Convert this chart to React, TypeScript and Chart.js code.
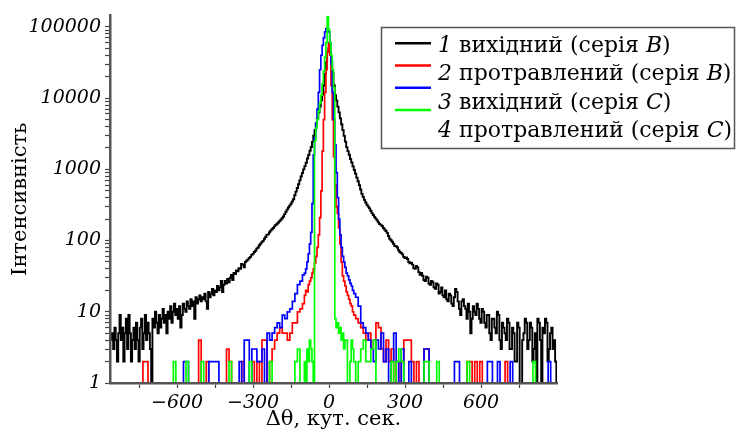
import { useEffect, useRef } from "react";
import { Chart, registerables } from "chart.js";

Chart.register(...registerables);

// Bin centres (arc seconds) for series 1, 5″ bins
const ANGLES_FINE = [
  -860, -855, -850, -845, -840, -835, -830, -825, -820, -815,
  -810, -805, -800, -795, -790, -785, -780, -775, -770, -765,
  -760, -755, -750, -745, -740, -735, -730, -725, -720, -715,
  -710, -705, -700, -695, -690, -685, -680, -675, -670, -665,
  -660, -655, -650, -645, -640, -635, -630, -625, -620, -615,
  -610, -605, -600, -595, -590, -585, -580, -575, -570, -565,
  -560, -555, -550, -545, -540, -535, -530, -525, -520, -515,
  -510, -505, -500, -495, -490, -485, -480, -475, -470, -465,
  -460, -455, -450, -445, -440, -435, -430, -425, -420, -415,
  -410, -405, -400, -395, -390, -385, -380, -375, -370, -365,
  -360, -355, -350, -345, -340, -335, -330, -325, -320, -315,
  -310, -305, -300, -295, -290, -285, -280, -275, -270, -265,
  -260, -255, -250, -245, -240, -235, -230, -225, -220, -215,
  -210, -205, -200, -195, -190, -185, -180, -175, -170, -165,
  -160, -155, -150, -145, -140, -135, -130, -125, -120, -115,
  -110, -105,
  -100, -95, -90, -85, -80, -75, -70, -65, -60, -55,
  -50, -45, -40, -35, -30, -25, -20, -15, -10, -5,
  0, 5, 10, 15, 20, 25, 30, 35, 40, 45,
  50, 55, 60, 65, 70, 75, 80, 85, 90, 95,
  100,
  105, 110, 115, 120, 125, 130, 135, 140, 145, 150,
  155, 160, 165, 170, 175, 180, 185, 190, 195, 200,
  205, 210, 215, 220, 225, 230, 235, 240, 245, 250,
  255, 260, 265, 270, 275, 280, 285, 290, 295, 300,
  305, 310, 315, 320, 325, 330, 335, 340, 345, 350,
  355, 360, 365, 370, 375, 380, 385, 390, 395, 400,
  405, 410, 415, 420, 425, 430, 435, 440, 445, 450,
  455, 460, 465, 470, 475, 480, 485, 490, 495, 500,
  505, 510, 515, 520, 525, 530, 535, 540, 545, 550,
  555, 560, 565, 570, 575, 580, 585, 590, 595, 600,
  605, 610, 615, 620, 625, 630, 635, 640, 645, 650,
  655, 660, 665, 670, 675, 680, 685, 690, 695, 700,
  705, 710, 715, 720, 725, 730, 735, 740, 745, 750,
  755, 760, 765, 770, 775, 780, 785, 790, 795, 800,
  805, 810, 815, 820, 825, 830, 835, 840, 845, 850,
  855, 860, 865, 870, 875, 880, 885, 890, 895, 900,
];

// 1 вихідний (серія B)
const SERIES_B_ORIGINAL = [
  4, 5, 3, 6, 4, 2, 5, 9, 4, 6,
  2, 5, 8, 3, 9, 5, 2, 4, 6, 3,
  7, 4, 2, 6, 8, 3, 5, 9, 4, 7,
  5, 3, 1, 8, 6, 10, 7, 5, 9, 6,
  8, 11, 7, 9, 5, 10, 8, 12, 7, 10,
  13, 9, 11, 8, 12, 6, 9, 13, 11, 10,
  14, 12, 11, 15, 12, 14, 8, 16, 13, 15,
  17, 14, 16, 15, 18, 14, 11, 19, 16, 18,
  21, 17, 20, 19, 23, 20, 22, 27, 19, 24,
  27, 25, 29, 26, 30, 33, 28, 35, 34, 38,
  37, 41, 40, 47, 46, 42, 50, 52, 54, 57,
  59, 63, 65, 69, 72, 77, 80, 86, 90, 95,
  99, 106, 112, 120, 122, 131, 138, 144, 150, 158,
  165, 172, 179, 187, 196, 206, 218, 235, 254, 272,
  291, 309, 329, 353, 381, 432, 487, 548, 618, 700,
  792, 890,
  1000, 1110, 1240, 1420, 1590, 1820, 2060, 2430, 2960, 3540,
  4320, 5190, 6300, 7620, 9300, 11200, 15000, 22000, 32000, 45000,
  50000, 44000, 33000, 22500, 15200, 11000, 9300, 7600, 6300, 5200,
  4300, 3550, 2950, 2450, 2050, 1800, 1600, 1400, 1250, 1100,
  980,
  870, 765, 680, 600, 520, 452, 410, 372, 343, 318,
  300, 283, 262, 243, 228, 214, 203, 192, 180, 171,
  166, 160, 150, 143, 136, 128, 116, 106, 101, 96,
  90, 84, 83, 80, 73, 69, 67, 64, 59, 57,
  58, 55, 50, 48, 49, 46, 41, 40, 44, 42,
  36, 33, 35, 32, 28, 27, 31, 30, 25, 24,
  27, 26, 22, 21, 25, 24, 18, 19, 22, 17,
  16, 20, 15, 14, 18, 17, 13, 12, 16, 21,
  19, 14, 11, 9, 14, 15, 12, 11, 8, 13,
  10, 5, 8, 12, 10, 9, 13, 11, 8, 7,
  11, 10, 7, 6, 9, 9, 5, 4, 8, 8,
  6, 5, 10, 9, 4, 3, 7, 6, 5, 4,
  8, 7, 3, 3, 6, 5, 2, 2, 7, 6,
  1, 1, 4, 5, 8, 7, 3, 4, 7, 6,
  2, 3, 5, 1, 8, 7, 4, 1, 6, 5,
  8, 7, 2, 3, 5, 6, 3, 4, 2, 1,
];

// Bin centres (arc seconds) for series 2–4
const ANGLES = [
  -860, -850, -840, -830, -820, -810, -800, -790, -780, -770,
  -760, -750, -740, -730, -720, -710, -700, -690, -680, -670,
  -660, -650, -640, -630, -620, -610, -600, -590, -580, -570,
  -560, -550, -540, -530, -520, -510, -500, -490, -480, -470,
  -460, -450, -440, -430, -420, -410, -400, -390, -380, -370,
  -360, -350, -340, -330, -320, -310, -300, -290, -280, -270,
  -260, -250, -240, -230, -220, -210, -200, -190, -180, -170,
  -160, -150, -140, -130, -120, -110,
  -100, -95, -90, -85, -80, -75, -70, -65, -60, -55,
  -50, -45, -40, -35, -30, -25, -20, -15, -10, -5,
  0, 5, 10, 15, 20, 25, 30, 35, 40, 45,
  50, 55, 60, 65, 70, 75, 80, 85, 90, 95,
  100,
  110, 120, 130, 140, 150, 160, 170, 180, 190, 200,
  210, 220, 230, 240, 250, 260, 270, 280, 290, 300,
  310, 320, 330, 340, 350, 360, 370, 380, 390, 400,
  410, 420, 430, 440, 450, 460, 470, 480, 490, 500,
  510, 520, 530, 540, 550, 560, 570, 580, 590, 600,
  610, 620, 630, 640, 650, 660, 670, 680, 690, 700,
  710, 720, 730, 740, 750, 760, 770, 780, 790, 800,
  810, 820, 830, 840, 850, 860, 870, 880, 890, 900,
];

// 2 протравлений (серія B)
const SERIES_B_ETCHED = [
  1, 1, 1, 1, 1, 1, 1, 1, 1, 1,
  1, 1, 1, 2, 2, 1, 1, 1, 1, 1,
  1, 1, 1, 1, 1, 1, 1, 1, 1, 1,
  1, 1, 1, 1, 1, 4, 1, 1, 2, 1,
  1, 1, 1, 1, 1, 1, 3, 2, 1, 1,
  1, 1, 2, 1, 1, 1, 2, 1, 2, 1,
  4, 4, 1, 2, 3, 4, 5, 6, 5, 5,
  4, 5, 7, 7, 10, 11,
  13, 17, 20, 19, 24, 27, 30, 35, 40, 48,
  60, 80, 120, 210, 500, 1800, 5000, 12000, 25000, 45000,
  60000, 40000, 15000, 5000, 1500, 600, 300, 240, 150, 90,
  50, 32, 27, 23, 19, 17, 15, 13, 12, 10,
  9,
  8, 7, 6, 5, 4, 5, 3, 4, 7, 6,
  3, 2, 4, 2, 3, 1, 2, 1, 2, 4,
  4, 4, 2, 1, 2, 1, 1, 3, 3, 1,
  1, 1, 1, 1, 1, 1, 1, 1, 1, 1,
  1, 1, 1, 1, 2, 2, 1, 2, 1, 2,
  1, 1, 1, 1, 1, 1, 1, 1, 1, 2,
  1, 1, 1, 1, 1, 1, 1, 1, 1, 1,
  1, 1, 1, 1, 1, 1, 1, 1, 1, 1,
];

// 3 вихідний (серія C)
const SERIES_C_ORIGINAL = [
  1, 1, 1, 1, 1, 1, 1, 1, 1, 1,
  1, 1, 1, 1, 1, 1, 1, 1, 1, 1,
  1, 1, 1, 1, 1, 1, 1, 1, 1, 2,
  2, 1, 1, 1, 1, 1, 1, 1, 1, 2,
  2, 2, 2, 1, 1, 1, 1, 1, 1, 1,
  1, 2, 1, 4, 4, 1, 3, 3, 2, 2,
  3, 1, 5, 4, 5, 6, 7, 6, 9, 8,
  10, 11, 14, 18, 24, 27,
  33, 35, 40, 50, 65, 90, 130, 330, 1600, 2800,
  4500, 7000, 12000, 25000, 40000, 55000, 70000, 85000, 95000, 95000,
  85000, 60000, 30000, 12000, 5000, 2200, 900, 400, 200, 120,
  80, 60, 50, 42, 35, 32, 28, 25, 23, 20,
  18,
  16, 12, 7, 6, 5, 4, 3, 2, 4, 3,
  5, 2, 3, 1, 2, 5, 2, 1, 3, 1,
  1, 2, 1, 1, 1, 1, 1, 3, 3, 1,
  1, 1, 1, 1, 1, 1, 1, 1, 1, 2,
  2, 1, 1, 1, 1, 1, 1, 1, 1, 1,
  1, 1, 2, 2, 1, 1, 2, 1, 1, 1,
  1, 2, 1, 1, 1, 1, 1, 1, 1, 1,
  1, 1, 1, 1, 1, 1, 2, 1, 1, 1,
];

// 4 протравлений (серія C)
const SERIES_C_ETCHED = [
  1, 1, 1, 1, 1, 1, 1, 1, 1, 1,
  1, 1, 1, 1, 1, 1, 1, 1, 1, 1,
  1, 1, 1, 1, 1, 2, 1, 1, 1, 1,
  2, 1, 1, 1, 1, 1, 2, 1, 1, 1,
  1, 1, 1, 1, 1, 1, 1, 2, 1, 1,
  1, 1, 1, 1, 1, 2, 1, 1, 1, 1,
  1, 1, 1, 2, 1, 1, 1, 1, 1, 1,
  1, 1, 1, 2, 3, 1,
  1, 2, 1, 3, 2, 4, 3, 2, 1, 2500,
  3800, 5000, 6500, 8500, 11000, 16000, 24000, 38000, 60000, 140000,
  90000, 60000, 40000, 25000, 14000, 8, 6, 7, 5, 6,
  4, 5, 3, 4, 4, 1, 1, 2, 4, 3,
  2,
  1, 2, 3, 4, 2, 2, 3, 4, 1, 1,
  1, 1, 1, 1, 2, 1, 2, 3, 2, 1,
  1, 1, 1, 1, 1, 1, 1, 2, 2, 1,
  1, 1, 2, 1, 1, 1, 1, 1, 1, 1,
  1, 1, 1, 1, 2, 1, 1, 1, 1, 1,
  1, 1, 1, 1, 1, 1, 1, 1, 1, 1,
  1, 1, 1, 1, 1, 1, 1, 1, 1, 1,
  2, 1, 1, 1, 1, 1, 1, 1, 1, 1,
];

const SERIES_ANGLES = [ANGLES_FINE, ANGLES, ANGLES, ANGLES];
const SERIES_VALUES = [SERIES_B_ORIGINAL, SERIES_B_ETCHED, SERIES_C_ORIGINAL, SERIES_C_ETCHED];
const SERIES_NUMBERS = ["1", "2", "3", "4"];
const SERIES_STATES = ["вихідний", "протравлений", "вихідний", "протравлений"];
const SERIES_LETTERS = ["B", "B", "C", "C"];
const SERIES_COLORS = ["#000000", "#ff0000", "#0000ff", "#00ff00"];

const X_TICKS = [-750, -600, -450, -300, -150, 0, 150, 300, 450, 600, 750];
const X_TICK_LABELS = [-600, -300, 0, 300, 600];
const Y_DECADES = [1, 10, 100, 1000, 10000, 100000];
const Y_MINOR_STEPS = [1, 2, 3, 4, 5, 6, 7, 8, 9];

const X_TITLE = "Δθ, кут. сек.";
const Y_TITLE = "Інтенсивність";
const SERIF = '"DejaVu Serif", "Liberation Serif", serif';

const X_MIN = -865;
const X_MAX = 900;
const Y_MIN = 1;
const Y_MAX = 145000;

const legendPlugin = {
  id: "seriesLegend",
  afterDraw(chart: any) {
    const ctx = chart.ctx as CanvasRenderingContext2D;
    ctx.save();
    ctx.fillStyle = "#ffffff";
    ctx.fillRect(381.5, 27.5, 353, 121);
    ctx.strokeStyle = "#555555";
    ctx.lineWidth = 1.5;
    ctx.strokeRect(381.5, 27.5, 353, 121);
    const upright = `22px ${SERIF}`;
    const italic = `italic 22px ${SERIF}`;
    chart.data.datasets.forEach((ds: any, i: number) => {
      const ly = 43.3 + i * 22.2;
      ctx.strokeStyle = ds.borderColor;
      ctx.lineWidth = 2.5;
      ctx.beginPath();
      ctx.moveTo(395, ly);
      ctx.lineTo(431, ly);
      ctx.stroke();
      const ty = 52 + i * 28.4;
      const parts = [
        { t: SERIES_NUMBERS[i], f: italic },
        { t: " " + SERIES_STATES[i] + " (серія ", f: upright },
        { t: SERIES_LETTERS[i], f: italic },
        { t: ")", f: upright },
      ];
      let x = 438;
      ctx.fillStyle = "#000000";
      ctx.textBaseline = "alphabetic";
      ctx.textAlign = "left";
      for (const p of parts) {
        ctx.font = p.f;
        ctx.fillText(p.t, x, ty);
        x += ctx.measureText(p.t).width;
      }
    });
    ctx.restore();
  },
};

function fmt(v: number) {
  return v < 0 ? "\u2212" + Math.abs(v) : String(v);
}

export default function App() {
  const ref = useRef<HTMLCanvasElement | null>(null);

  useEffect(() => {
    document.body.style.margin = "0";
    const canvas = ref.current;
    if (!canvas) return;
    const datasets = SERIES_VALUES.map((vals, i) => ({
      label: `${SERIES_NUMBERS[i]} ${SERIES_STATES[i]} (серія ${SERIES_LETTERS[i]})`,
      data: SERIES_ANGLES[i].map((a, j) => ({ x: a, y: vals[j] })),
      borderColor: SERIES_COLORS[i],
      backgroundColor: SERIES_COLORS[i],
      borderWidth: i === 0 ? 1.9 : 1.7,
      pointRadius: 0,
      stepped: "middle" as const,
      fill: false,
      order: 4 - i,
    }));

    const axisGrid = { display: true, drawOnChartArea: false, drawTicks: true, tickLength: 5, tickColor: "#444444", tickWidth: 1.2 };
    const axisBorder = { display: true, color: "#555555", width: 2.5, z: 1 };

    const chart = new Chart(canvas, {
      type: "line",
      data: { datasets },
      options: {
        animation: false,
        responsive: false,
        devicePixelRatio: 1,
        layout: { padding: { left: 0, right: 179, top: 14, bottom: 0 } },
        plugins: {
          legend: { display: false },
          tooltip: { enabled: false },
          title: { display: false },
        },
        scales: {
          x: {
            type: "linear",
            min: X_MIN,
            max: X_MAX,
            afterBuildTicks(scale: any) {
              scale.ticks = X_TICKS.map((value) => ({ value }));
            },
            afterFit(scale: any) {
              scale.height = 49;
            },
            ticks: {
              autoSkip: false,
              maxRotation: 0,
              padding: 4,
              color: "#000000",
              font: { family: SERIF, size: 19, style: "italic" },
              callback: (value: any) => (X_TICK_LABELS.includes(Number(value)) ? fmt(Number(value)) : ""),
            },
            grid: axisGrid,
            border: axisBorder,
            title: {
              display: true,
              text: X_TITLE,
              color: "#000000",
              font: { family: SERIF, size: 21, lineHeight: 1.2 },
              padding: { top: 0, bottom: 0 },
            },
          },
          y: {
            type: "logarithmic",
            min: Y_MIN,
            max: Y_MAX,
            afterBuildTicks(scale: any) {
              const t: { value: number }[] = [];
              for (const d of Y_DECADES) {
                for (const m of Y_MINOR_STEPS) {
                  if (d * m <= Y_MAX) t.push({ value: d * m });
                }
              }
              scale.ticks = t;
            },
            afterFit(scale: any) {
              scale.width = 110;
            },
            ticks: {
              autoSkip: false,
              padding: 4,
              color: "#000000",
              font: { family: SERIF, size: 19, style: "italic" },
              callback: (value: any) => (Y_DECADES.includes(Number(value)) ? String(value) : ""),
            },
            grid: axisGrid,
            border: axisBorder,
            title: {
              display: true,
              text: Y_TITLE,
              color: "#000000",
              font: { family: SERIF, size: 21, lineHeight: 1.2 },
              padding: { top: 8, bottom: 0 },
            },
          },
        },
      },
      plugins: [legendPlugin],
    });
    return () => chart.destroy();
  }, []);

  return <canvas ref={ref} width={736} height={432} style={{ display: "block", width: 736, height: 432 }} />;
}
